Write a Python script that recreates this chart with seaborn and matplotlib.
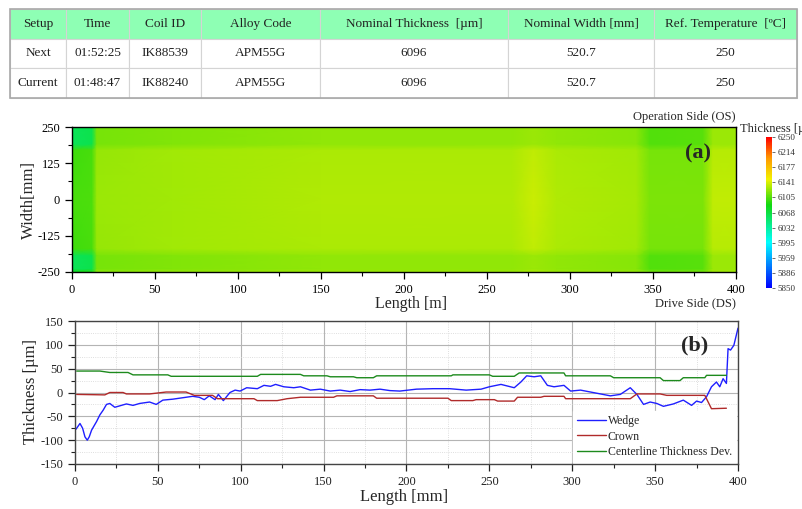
"""Coil thickness map and profile plot with setup table."""
import numpy as np
import pandas as pd
import matplotlib
matplotlib.use("Agg")
import matplotlib.pyplot as plt
import seaborn as sns
from matplotlib.colors import LinearSegmentedColormap, Normalize
from matplotlib.ticker import MultipleLocator

sns.set_style("ticks")
plt.rcParams["font.family"] = ["Liberation Serif", "DejaVu Serif"]
plt.rcParams["axes.unicode_minus"] = False

# setup table
table_cols = ["Setup", "Time", "Coil ID", "Alloy Code", "Nominal Thickness  [µm]",
              "Nominal Width [mm]", "Ref. Temperature  [ºC]"]
table_rows = [["Next", "01:52:25", "IK88539", "APM55G", "6096", "520.7", "250"],
              ["Current", "01:48:47", "IK88240", "APM55G", "6096", "520.7", "250"]]

# thickness map (um), nodes along length [m] and width [mm]
map_length = [0, 12, 15, 60, 150, 265, 278, 292, 340, 348, 380, 386, 400]
map_width = [250, 190, 170, 0, -170, -195, -240, -250]
map_values = [
    [6040, 6045, 6100, 6104, 6108, 6108, 6112, 6108, 6106, 6090, 6092, 6112, 6112],
    [6040, 6045, 6100, 6104, 6108, 6108, 6112, 6108, 6106, 6090, 6092, 6112, 6112],
    [6084, 6086, 6110, 6113, 6117, 6117, 6123, 6117, 6114, 6100, 6100, 6120, 6120],
    [6086, 6088, 6112, 6114, 6118, 6118, 6125, 6118, 6115, 6102, 6102, 6122, 6122],
    [6084, 6086, 6110, 6113, 6117, 6117, 6123, 6117, 6114, 6100, 6100, 6120, 6120],
    [6040, 6045, 6100, 6104, 6108, 6108, 6112, 6108, 6106, 6090, 6092, 6112, 6112],
    [6040, 6045, 6100, 6104, 6108, 6108, 6112, 6108, 6106, 6090, 6092, 6112, 6112],
    [6070, 6075, 6108, 6110, 6112, 6112, 6116, 6112, 6110, 6100, 6100, 6114, 6114],
]
cbar_labels = ["5850", "5886", "5959", "5995", "6032", "6068", "6105",
               "6141", "6177", "6214", "6250"]

# profiles along length
wedge_x = [0.6, 3, 4.6, 6, 7.4, 8.6, 10, 13, 15, 17, 19, 21, 24, 27, 31, 35, 39, 45, 49,
           53, 59, 65, 71, 75, 78, 81, 84.5, 86.5, 89.5, 93.5, 96.6, 99.6, 103.6, 110,
           114, 118, 121, 126, 132, 136, 142, 148, 154, 160, 166, 172, 178, 184, 190,
           196, 206, 216, 226, 236, 245, 250, 257, 265, 269, 272.5, 277, 281, 285, 289,
           295, 299, 305, 311, 317, 323, 329, 335, 339, 343, 347, 351, 355, 361, 367,
           372, 375, 378, 381, 384, 387, 389, 391, 393, 394, 395.5, 397.5, 400]
wedge_y = [-77, -65, -75, -93, -100, -93, -79, -61, -47, -37, -25, -23, -31, -28, -24,
           -27, -23, -20, -25, -16, -14, -11, -8, -10, -15, -7, -15, -4, -17, 0, 5, 3,
           10, 8, 15, 13, 17, 12, 10, 12, 5, 7, 3, 5, 2, 6, 5, 7, 4, 3, 7, 8, 8, 5, 7,
           12, 17, 10, 22, 35, 33, 35, 15, 12, 15, 3, 5, 1, -3, -7, -4, 10, -4, -25,
           -20, -23, -29, -24, -16, -27, -18, -21, -9, 12, 22, 12, 29, 19, 92, 89, 99,
           135]
crown_x = [1, 18, 21, 29, 31, 45, 50, 55, 67, 72, 83, 86, 108, 110, 122, 128, 136, 156,
           158, 180, 182, 225, 227, 240, 242, 253, 255, 265, 267, 281, 283, 295, 296,
           335, 339, 353, 357, 380, 384, 393]
crown_y = [-4, -5, 0, 0, -3, -3, -1, 1, 1, -6, -6, -13, -13, -17, -17, -13, -10, -10,
           -7, -7, -12, -12, -17, -17, -15, -15, -18, -18, -10, -10, -8, -8, -13, -13,
           -3, -3, -6, -6, -34, -33]
center_x = [1, 15, 21, 32, 35, 56, 58, 110, 112, 136, 138, 152, 154, 168, 170, 180,
            182, 227, 228, 250, 252, 265, 268, 295, 296, 323, 325, 353, 355, 365, 367,
            380, 381, 393]
center_y = [45, 45, 42, 42, 37, 37, 34, 34, 38, 38, 35, 35, 33, 33, 31, 31, 35, 35,
            37, 37, 34, 34, 41, 41, 35, 35, 31, 31, 25, 25, 31, 31, 36, 36]

series_names = ["Wedge", "Crown", "Centerline Thickness Dev."]
series_colors = ["#1f1fff", "#b02a2a", "#1d8a1d"]

W, H = 803, 509


def box(x0, y0, x1, y1):
    return [x0 / W, 1 - y1 / H, (x1 - x0) / W, (y1 - y0) / H]


fig = plt.figure(figsize=(W / 100, H / 100), dpi=100)

# table
ax_t = fig.add_axes(box(10, 9, 797, 98))
ax_t.axis("off")
widths = np.array([56, 63, 72, 119, 188, 146, 143], dtype=float)
tbl = ax_t.table(cellText=table_rows, colLabels=table_cols, cellLoc="center",
                 bbox=[0, 0, 1, 1], colWidths=list(widths / widths.sum()))
tbl.auto_set_font_size(False)
for (r, c), cell in tbl.get_celld().items():
    cell.set_edgecolor("#d4d4d4")
    cell.set_linewidth(0.8)
    cell.get_text().set_fontsize(9.5)
    cell.get_text().set_color("#222222")
    if r == 0:
        cell.set_facecolor("#8effb4")
ax_t.add_patch(plt.Rectangle((0, 0), 1, 1, transform=ax_t.transAxes, fill=False,
                             edgecolor="#a8a8a8", lw=1.2, clip_on=False))

# (a) thickness map
cmap = LinearSegmentedColormap.from_list(
    "thk", [(0.0, "#0000ff"), (0.3, "#00ffff"), (0.55, "#10d810"),
            (0.72, "#f2f200"), (0.86, "#ff9a00"), (1.0, "#ff0000")])
norm = Normalize(5850, 6250)
ax_a = fig.add_axes(box(72, 127, 736, 272))
mesh = ax_a.pcolormesh(map_length, map_width, np.array(map_values, dtype=float),
                       cmap=cmap, norm=norm, shading="gouraud")
ax_a.set_xlim(0, 400)
ax_a.set_ylim(-250, 250)
ax_a.set_xticks(range(0, 401, 50))
ax_a.set_yticks([250, 125, 0, -125, -250])
ax_a.xaxis.set_minor_locator(MultipleLocator(25))
ax_a.yaxis.set_minor_locator(MultipleLocator(62.5))
ax_a.tick_params(which="both", direction="out", labelsize=9, colors="black")
ax_a.tick_params(which="major", length=5, width=0.9)
ax_a.tick_params(which="minor", length=3, width=0.8)
for s in ax_a.spines.values():
    s.set_color("black")
    s.set_linewidth(1.0)
ax_a.text(0.963, 0.82, "(a)", transform=ax_a.transAxes, ha="right", va="center",
          fontsize=16, fontweight="bold")

ax_cb = fig.add_axes(box(766, 137, 772, 288))
cb = fig.colorbar(mesh, cax=ax_cb)
cb.set_ticks(np.linspace(5850, 6250, 11))
cb.set_ticklabels(cbar_labels)
cb.outline.set_visible(False)
ax_cb.tick_params(labelsize=6.5, length=2, width=0.5, pad=2, colors="#333333")

fig.text(736 / W, 1 - 123 / H, "Operation Side (OS)", ha="right", va="bottom", fontsize=9)
fig.text(736 / W, 1 - 303 / H, "Drive Side (DS)", ha="right", va="center", fontsize=9)
fig.text(411 / W, 1 - 304 / H, "Length [m]", ha="center", va="center", fontsize=11.5)
fig.text(29 / W, 1 - 200 / H, "Width[mm]", ha="center", va="center", rotation=90,
         fontsize=12)
fig.text(740 / W, 1 - 129 / H, "Thickness [µm]", ha="left", va="center", fontsize=9)

# (b) profiles
df = pd.concat([
    pd.DataFrame({"Length": wedge_x, "Thickness": wedge_y, "Series": series_names[0]}),
    pd.DataFrame({"Length": crown_x, "Thickness": crown_y, "Series": series_names[1]}),
    pd.DataFrame({"Length": center_x, "Thickness": center_y, "Series": series_names[2]}),
], ignore_index=True)

ax_b = fig.add_axes(box(75, 321, 738, 464))
sns.lineplot(data=df, x="Length", y="Thickness", hue="Series", hue_order=series_names,
             palette=series_colors, estimator=None, linewidth=1.0, ax=ax_b)
ax_b.set_xlim(0, 400)
ax_b.set_ylim(-150, 150)
ax_b.set_xticks(range(0, 401, 50))
ax_b.set_yticks(range(-150, 151, 50))
ax_b.xaxis.set_minor_locator(MultipleLocator(25))
ax_b.yaxis.set_minor_locator(MultipleLocator(25))
ax_b.grid(which="major", color="#b4b4b4", lw=0.8)
ax_b.grid(which="minor", color="#d4d4d4", lw=0.6, ls=":")
ax_b.set_axisbelow(True)
ax_b.set_xlabel("")
ax_b.set_ylabel("")
ax_b.tick_params(which="both", direction="out", labelsize=9, colors="#222222")
ax_b.tick_params(which="major", length=5, width=0.9)
ax_b.tick_params(which="minor", length=3, width=0.8)
for s in ax_b.spines.values():
    s.set_color("#444444")
    s.set_linewidth(1.0)
leg = ax_b.legend(loc="lower right", fontsize=8.5, frameon=True, fancybox=False,
                  framealpha=1, edgecolor="white", handlelength=2.5, handletextpad=0.15,
                  borderaxespad=0.2, labelspacing=0.3, borderpad=0.3)
ax_b.text(0.955, 0.83, "(b)", transform=ax_b.transAxes, ha="right", va="center",
          fontsize=16, fontweight="bold")

fig.text(31 / W, 1 - 392 / H, "Thickness [µm]", ha="center", va="center", rotation=90,
         fontsize=12)
fig.text(404 / W, 1 - 497 / H, "Length [mm]", ha="center", va="center", fontsize=12)

fig.savefig("out.png", dpi=100)
